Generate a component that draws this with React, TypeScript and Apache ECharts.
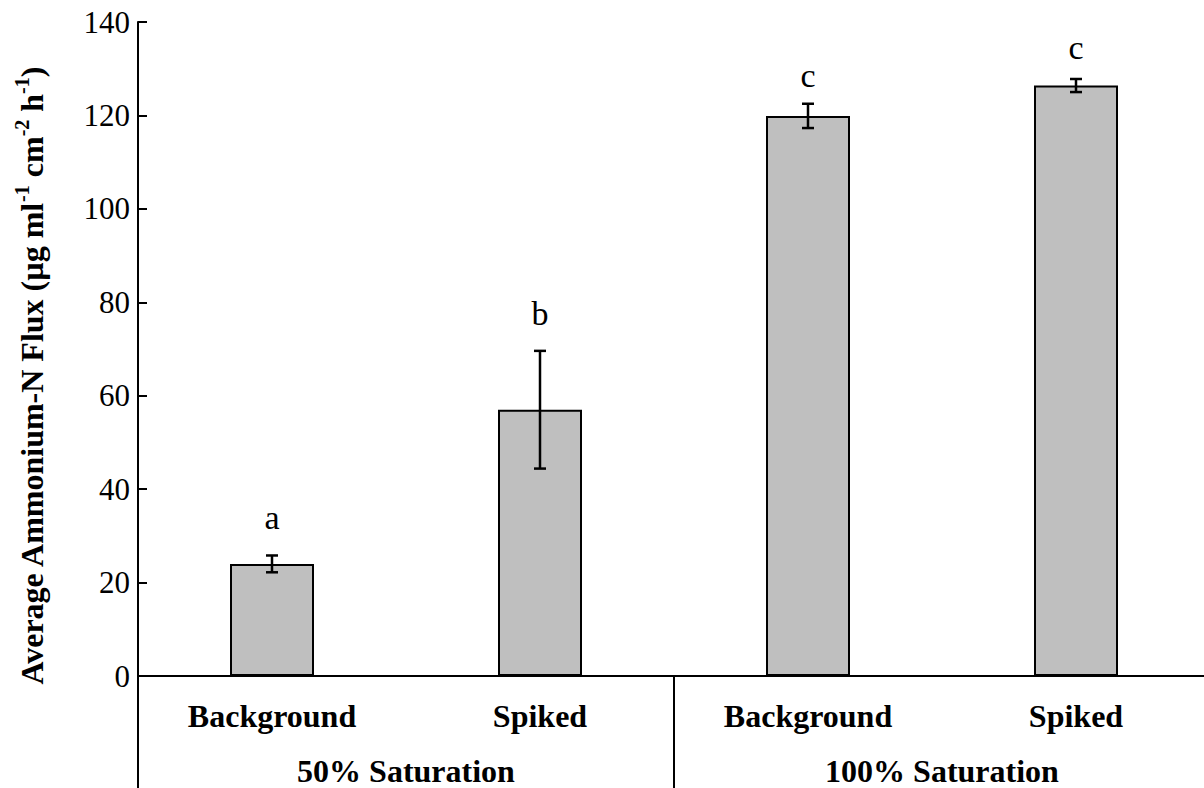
import React, { useEffect, useRef } from "react";
import * as echarts from "echarts";

const categories = ["Background", "Spiked", "Background", "Spiked"];
const groups = ["50% Saturation", "100% Saturation"];
const means = [24, 57, 119.9, 126.4];
const errors = [1.8, 12.6, 2.6, 1.4];
const letters = ["a", "b", "c", "c"];
const letterY = [34, 77.7, 128.6, 134.6];
const yTicks = { min: 0, max: 140, interval: 20 };

const FONT = "Liberation Serif";

export default function App() {
  const ref = useRef<HTMLDivElement>(null);
  useEffect(() => {
    if (!ref.current) return;
    const chart = echarts.init(ref.current, null, { renderer: "svg" });
    const option: any = {
      animation: false,
      backgroundColor: "#ffffff",
      grid: { left: 138, right: 0, top: 22, bottom: 112, containLabel: false },
      xAxis: [
        {
          type: "category",
          data: categories,
          position: "bottom",
          axisLine: { show: true, lineStyle: { color: "#000", width: 2 } },
          axisTick: { show: false },
          axisLabel: {
            interval: 0,
            margin: 24,
            color: "#000",
            fontFamily: FONT,
            fontWeight: "bold",
            fontSize: 32,
          },
        },
        {
          type: "category",
          data: groups,
          position: "bottom",
          axisLine: { show: false },
          axisTick: { show: true, length: 112, lineStyle: { color: "#000", width: 2 } },
          axisLabel: {
            interval: 0,
            margin: 82,
            color: "#000",
            fontFamily: FONT,
            fontWeight: "bold",
            fontSize: 32,
            lineHeight: 26,
          },
        },
      ],
      yAxis: {
        type: "value",
        min: yTicks.min,
        max: yTicks.max,
        interval: yTicks.interval,
        axisLine: { show: true, lineStyle: { color: "#000", width: 2 } },
        axisTick: { show: true, inside: true, length: 9, lineStyle: { color: "#000", width: 2 } },
        splitLine: { show: false },
        axisLabel: {
          margin: 8,
          color: "#000",
          fontFamily: FONT,
          fontSize: 31,
        },
      },
      graphic: [
        {
          type: "text",
          x: 30,
          y: 376,
          rotation: Math.PI / 2,
          style: {
            text:
              "{b|Average Ammonium-N Flux (µg ml}{s|-1}{b| cm}{s|-2}{b| h}{s|-1}{b|)}",
            align: "center",
            verticalAlign: "middle",
            fill: "#000",
            rich: {
              b: { fontFamily: FONT, fontWeight: "bold", fontSize: 32, lineHeight: 36, verticalAlign: "bottom" },
              s: { fontFamily: FONT, fontWeight: "bold", fontSize: 20, lineHeight: 20, verticalAlign: "top" },
            },
          },
        },
      ],
      series: [
        {
          type: "bar",
          xAxisIndex: 0,
          data: means,
          barWidth: 84,
          itemStyle: { color: "#BFBFBF", borderColor: "#000", borderWidth: 2 },
        },
        {
          type: "custom",
          xAxisIndex: 0,
          data: means.map((m, i) => [i, m, errors[i]]),
          renderItem: (params: any, api: any) => {
            const x = api.value(0);
            const m = api.value(1);
            const e = api.value(2);
            const top = api.coord([x, m + e]);
            const bot = api.coord([x, m - e]);
            const half = 6;
            const st = { stroke: "#000", lineWidth: 2.5 };
            return {
              type: "group",
              children: [
                { type: "line", shape: { x1: top[0], y1: top[1], x2: bot[0], y2: bot[1] }, style: st },
                { type: "line", shape: { x1: top[0] - half, y1: top[1], x2: top[0] + half, y2: top[1] }, style: st },
                { type: "line", shape: { x1: bot[0] - half, y1: bot[1], x2: bot[0] + half, y2: bot[1] }, style: st },
              ],
            };
          },
          z: 5,
        },
        {
          type: "custom",
          xAxisIndex: 0,
          data: letterY.map((v, i) => [i, v]),
          renderItem: (params: any, api: any) => {
            const p = api.coord([api.value(0), api.value(1)]);
            return {
              type: "text",
              x: p[0],
              y: p[1],
              style: {
                text: letters[params.dataIndex],
                align: "center",
                verticalAlign: "middle",
                fontFamily: FONT,
                fontSize: 34,
                fill: "#000",
              },
            };
          },
          z: 5,
        },
      ],
    };
    chart.setOption(option);
    return () => chart.dispose();
  }, []);
  return (
    <div
      ref={ref}
      style={{ position: "fixed", left: 0, top: 0, width: 1210, height: 788, background: "#fff" }}
    />
  );
}
